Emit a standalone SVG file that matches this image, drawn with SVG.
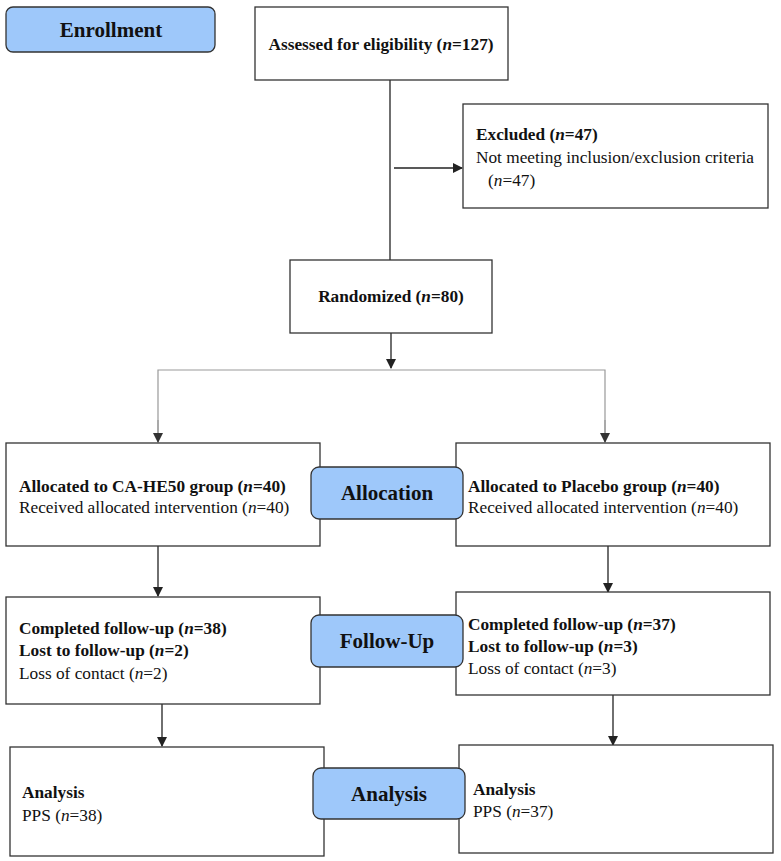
<svg xmlns="http://www.w3.org/2000/svg" width="781" height="861" viewBox="0 0 781 861">
<defs>
<marker id="ah" markerWidth="10" markerHeight="10" refX="9" refY="5" orient="auto" markerUnits="userSpaceOnUse">
<path d="M0,0 L10,5 L0,10 Z" fill="#222"/>
</marker>
<marker id="ahg" markerWidth="10" markerHeight="10" refX="9" refY="5" orient="auto" markerUnits="userSpaceOnUse">
<path d="M0,0 L10,5 L0,10 Z" fill="#333"/>
</marker>
</defs>
<style>
.box{fill:#fff;stroke:#333;stroke-width:1.3}
.pill{fill:#9ec8fa;stroke:#333;stroke-width:1.3}
.t{font-family:"Liberation Serif","Times New Roman",serif;font-size:17.3px;fill:#111}
.b{font-weight:bold}
.lbl{font-family:"Liberation Serif","Times New Roman",serif;font-size:21px;font-weight:bold;fill:#111;text-anchor:middle}
.ln{stroke:#222;stroke-width:1.3;fill:none}
.gl{stroke:#999;stroke-width:1.2;fill:none}
</style>
<g id="connectors">
<line class="ln" x1="390" y1="80" x2="390" y2="260"/>
<line class="ln" x1="394" y1="168" x2="462" y2="168" marker-end="url(#ah)"/>
<line class="ln" x1="391" y1="333" x2="391" y2="368" marker-end="url(#ah)"/>
<polyline class="gl" points="158,442 158,370 605,370 605,442"/>
<line class="gl" x1="158" y1="420" x2="158" y2="442" marker-end="url(#ahg)"/>
<line class="gl" x1="605" y1="420" x2="605" y2="442" marker-end="url(#ahg)"/>
<line class="ln" x1="158" y1="546" x2="158" y2="596" marker-end="url(#ah)"/>
<line class="ln" x1="608" y1="546" x2="608" y2="592" marker-end="url(#ah)"/>
<line class="ln" x1="162" y1="704" x2="162" y2="746" marker-end="url(#ah)"/>
<line class="ln" x1="613" y1="695" x2="613" y2="745" marker-end="url(#ah)"/>
</g>
<g id="enrollment">
<rect class="pill" x="6" y="7" width="209" height="45" rx="7"/>
<text class="lbl" x="111" y="37">Enrollment</text>
</g>
<g id="assessed">
<rect class="box" x="255" y="7" width="253" height="73"/>
<text class="t b" x="381" y="50" text-anchor="middle">Assessed for eligibility (<tspan font-style="italic">n</tspan>=127)</text>
</g>
<g id="excluded">
<rect class="box" x="463" y="104" width="305" height="104"/>
<text class="t b" x="476" y="140">Excluded (<tspan font-style="italic">n</tspan>=47)</text>
<text class="t" x="476" y="163">Not meeting inclusion/exclusion criteria</text>
<text class="t" x="488" y="186">(<tspan font-style="italic">n</tspan>=47)</text>
</g>
<g id="randomized">
<rect class="box" x="290" y="260" width="202" height="73"/>
<text class="t b" x="391" y="302" text-anchor="middle">Randomized (<tspan font-style="italic">n</tspan>=80)</text>
</g>
<g id="alloc-left">
<rect class="box" x="6" y="443" width="314" height="103"/>
<text class="t b" x="19" y="492">Allocated to CA-HE50 group (<tspan font-style="italic">n</tspan>=40)</text>
<text class="t" x="19" y="513">Received allocated intervention (<tspan font-style="italic">n</tspan>=40)</text>
</g>
<g id="alloc-right">
<rect class="box" x="456" y="443" width="314" height="103"/>
<text class="t b" x="468" y="492">Allocated to Placebo group (<tspan font-style="italic">n</tspan>=40)</text>
<text class="t" x="468" y="513">Received allocated intervention (<tspan font-style="italic">n</tspan>=40)</text>
</g>
<g id="allocation">
<rect class="pill" x="311" y="467" width="152" height="52" rx="8"/>
<text class="lbl" x="387" y="500">Allocation</text>
</g>
<g id="follow-left">
<rect class="box" x="6" y="597" width="314" height="107"/>
<text class="t b" x="19" y="634">Completed follow-up (<tspan font-style="italic">n</tspan>=38)</text>
<text class="t b" x="19" y="656">Lost to follow-up (<tspan font-style="italic">n</tspan>=2)</text>
<text class="t" x="19" y="679">Loss of contact (<tspan font-style="italic">n</tspan>=2)</text>
</g>
<g id="follow-right">
<rect class="box" x="456" y="592" width="314" height="103"/>
<text class="t b" x="468" y="630">Completed follow-up (<tspan font-style="italic">n</tspan>=37)</text>
<text class="t b" x="468" y="652">Lost to follow-up (<tspan font-style="italic">n</tspan>=3)</text>
<text class="t" x="468" y="674">Loss of contact (<tspan font-style="italic">n</tspan>=3)</text>
</g>
<g id="followup">
<rect class="pill" x="311" y="615" width="152" height="52" rx="8"/>
<text class="lbl" x="387" y="648">Follow-Up</text>
</g>
<g id="analysis-left">
<rect class="box" x="10" y="747" width="314" height="109"/>
<text class="t b" x="22" y="798">Analysis</text>
<text class="t" x="22" y="821">PPS (<tspan font-style="italic">n</tspan>=38)</text>
</g>
<g id="analysis-right">
<rect class="box" x="459" y="745" width="314" height="108"/>
<text class="t b" x="473" y="795">Analysis</text>
<text class="t" x="473" y="817">PPS (<tspan font-style="italic">n</tspan>=37)</text>
</g>
<g id="analysis">
<rect class="pill" x="313" y="768" width="152" height="51" rx="8"/>
<text class="lbl" x="389" y="801">Analysis</text>
</g>
</svg>
